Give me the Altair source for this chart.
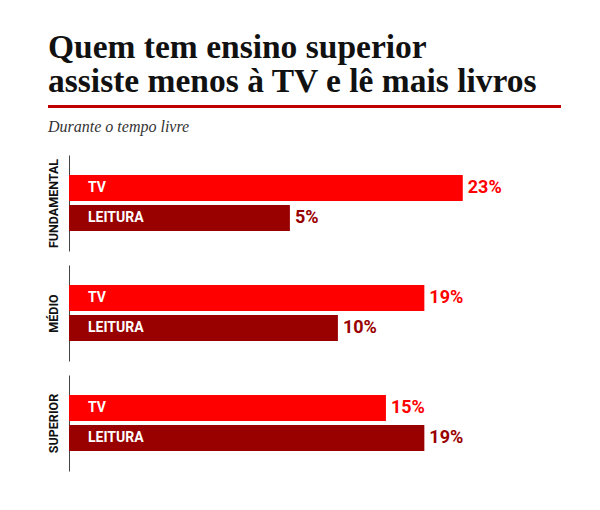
import altair as alt
import pandas as pd

# ---- data ----
groups = ["FUNDAMENTAL", "MÉDIO", "SUPERIOR"]
categories = ["TV", "LEITURA"]
tv_values = [23, 19, 15]
leitura_values = [5, 10, 19]
title_lines = ["Quem tem ensino superior", "assiste menos à TV e lê mais livros"]
subtitle_text = "Durante o tempo livre"

BASELINE = -18
DOMAIN_MAX = 30
colors = ["#ff0000", "#990000"]

rows = []
for g, t, l in zip(groups, tv_values, leitura_values):
    rows.append({"grupo": g, "cat": "TV", "valor": t, "rotulo": f"{t}%"})
    rows.append({"grupo": g, "cat": "LEITURA", "valor": l, "rotulo": f"{l}%"})
df = pd.DataFrame(rows)
df["base"] = BASELINE

W = 461
H = 96

xscale = alt.Scale(domain=[BASELINE, DOMAIN_MAX], nice=False, zero=False)
yscale = alt.Scale(domain=categories, paddingInner=0.1333, paddingOuter=0.6667, align=0.5)
cscale = alt.Scale(domain=categories, range=colors)


def panel(g):
    base = alt.Chart(df).transform_filter(alt.datum.grupo == g)
    bars = base.mark_bar().encode(
        x=alt.X("valor:Q", scale=xscale, axis=None),
        x2="base:Q",
        y=alt.Y("cat:N", scale=yscale,
                axis=alt.Axis(title=g, labels=False, ticks=False, domain=True,
                              domainColor="#444", domainWidth=1,
                              titleFont="Roboto", titleFontSize=12.5,
                              titleFontWeight="bold", titleColor="#111",
                              titlePadding=9)),
        color=alt.Color("cat:N", scale=cscale, legend=None),
    )
    inner = base.mark_text(align="left", baseline="middle", font="Roboto",
                           fontSize=14, fontWeight="bold", color="white").encode(
        x=alt.value(19),
        y=alt.Y("cat:N", scale=yscale),
        text="cat:N",
    )
    vals = base.mark_text(align="left", baseline="middle", font="Roboto",
                          fontSize=18, fontWeight="bold", dx=5).encode(
        x=alt.X("valor:Q", scale=xscale),
        y=alt.Y("cat:N", scale=yscale),
        text="rotulo:N",
        color=alt.Color("cat:N", scale=cscale, legend=None),
    )
    return alt.layer(bars, inner, vals).properties(width=W, height=H)


hdr_df = pd.DataFrame({"t": [subtitle_text]})
rule = alt.Chart(hdr_df).mark_rule(color="#c00000", strokeWidth=3).encode(
    x=alt.value(-21), x2=alt.value(492), y=alt.value(4.5)
)
sub = alt.Chart(hdr_df).mark_text(align="left", baseline="alphabetic",
                                  font="Liberation Serif", fontStyle="italic",
                                  fontSize=16, color="#333").encode(
    x=alt.value(-21), y=alt.value(30), text="t:N"
)
header = alt.layer(rule, sub).properties(width=W, height=39)

chart = alt.vconcat(
    header, panel(groups[0]), panel(groups[1]), panel(groups[2]), spacing=14
).properties(
    title=alt.TitleParams(
        text=title_lines, anchor="start", font="Liberation Serif", fontSize=33.5,
        fontWeight="bold", color="#111", lineHeight=34, offset=3, dx=1.5
    ),
    padding={"left": 38, "top": 22, "right": 5, "bottom": 5},
).configure_view(stroke=None).configure_concat(spacing=14)

chart.save("out.html", embed_options={"renderer": "svg", "actions": False})
